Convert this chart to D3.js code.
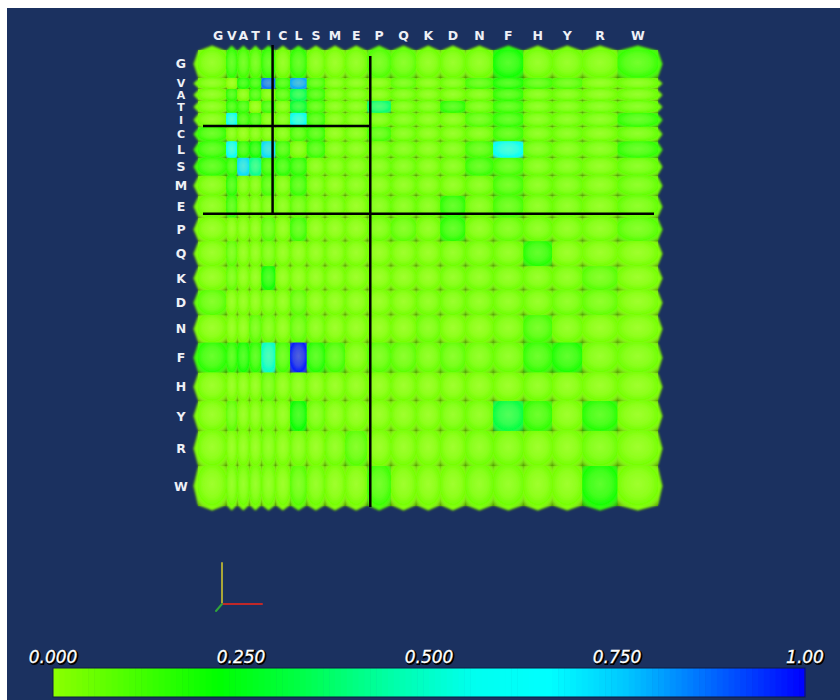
<!DOCTYPE html>
<html>
<head>
<meta charset="utf-8">
<script src="https://cdn.jsdelivr.net/npm/d3@7/dist/d3.min.js"></script>
<style>
  html, body { margin: 0; padding: 0; background: #ffffff; }
  svg { display: block; }
</style>
</head>
<body>
<script>
// ---------------- DATA ----------------
const residues = ["G","V","A","T","I","C","L","S","M","E","P","Q","K","D","N","F","H","Y","R","W"];
// relative extent of each residue's band in the matrix
const residueWeight = [28,11,12,12,14,14.5,16.5,18,20,22,23.5,25,24,25,27.5,30,28.5,30,35,40];
// residues that close a block (separator lines drawn after them)
const blockEnds = ["I","E"];
// matrix values, rows in residue order, columns in residue order
const matrix = [
  /* G */ [0.05,0.15,0.12,0.10,0.15,0.05,0.15,0.05,0.04,0.05,0.10,0.08,0.05,0.05,0.05,0.20,0.05,0.05,0.05,0.14],
  /* V */ [0.05,0.02,0.18,0.16,0.86,0.15,0.80,0.12,0.05,0.05,0.05,0.08,0.05,0.06,0.12,0.18,0.12,0.10,0.05,0.06],
  /* A */ [0.05,0.16,0.04,0.14,0.05,0.12,0.34,0.14,0.05,0.05,0.05,0.06,0.05,0.05,0.06,0.15,0.06,0.06,0.05,0.06],
  /* T */ [0.05,0.16,0.15,0.02,0.14,0.05,0.30,0.12,0.05,0.05,0.38,0.06,0.06,0.16,0.07,0.14,0.06,0.06,0.06,0.07],
  /* I */ [0.05,0.60,0.15,0.14,0.05,0.06,0.58,0.14,0.05,0.05,0.06,0.06,0.05,0.05,0.10,0.15,0.06,0.06,0.06,0.15],
  /* C */ [0.14,0.05,0.03,0.05,0.05,0.05,0.12,0.14,0.04,0.05,0.12,0.06,0.05,0.05,0.06,0.13,0.06,0.06,0.05,0.07],
  /* L */ [0.15,0.62,0.16,0.20,0.72,0.14,0.05,0.14,0.05,0.05,0.06,0.06,0.05,0.06,0.12,0.62,0.07,0.06,0.06,0.15],
  /* S */ [0.15,0.16,0.72,0.42,0.15,0.16,0.16,0.05,0.05,0.05,0.06,0.06,0.05,0.06,0.14,0.12,0.06,0.06,0.05,0.07],
  /* M */ [0.05,0.16,0.05,0.05,0.12,0.05,0.14,0.05,0.04,0.05,0.05,0.05,0.05,0.05,0.06,0.12,0.06,0.06,0.05,0.07],
  /* E */ [0.05,0.14,0.05,0.05,0.06,0.05,0.08,0.05,0.05,0.04,0.06,0.06,0.06,0.16,0.06,0.12,0.06,0.06,0.05,0.07],
  /* P */ [0.04,0.04,0.04,0.04,0.09,0.04,0.13,0.04,0.04,0.04,0.06,0.08,0.05,0.16,0.05,0.07,0.06,0.05,0.05,0.09],
  /* Q */ [0.04,0.08,0.04,0.04,0.06,0.04,0.04,0.04,0.04,0.04,0.04,0.04,0.04,0.05,0.05,0.05,0.17,0.04,0.04,0.04],
  /* K */ [0.04,0.07,0.04,0.04,0.20,0.04,0.04,0.04,0.04,0.04,0.04,0.04,0.04,0.05,0.05,0.05,0.05,0.05,0.09,0.04],
  /* D */ [0.09,0.04,0.04,0.04,0.05,0.04,0.08,0.04,0.04,0.04,0.04,0.04,0.05,0.05,0.05,0.05,0.05,0.06,0.07,0.04],
  /* N */ [0.04,0.04,0.04,0.08,0.06,0.04,0.08,0.05,0.04,0.04,0.04,0.04,0.06,0.04,0.04,0.05,0.12,0.05,0.04,0.04],
  /* F */ [0.16,0.16,0.19,0.16,0.50,0.12,0.97,0.17,0.12,0.05,0.09,0.08,0.06,0.08,0.06,0.06,0.15,0.18,0.05,0.05],
  /* H */ [0.04,0.04,0.04,0.04,0.07,0.04,0.05,0.04,0.04,0.04,0.04,0.04,0.04,0.04,0.04,0.04,0.05,0.04,0.04,0.04],
  /* Y */ [0.04,0.08,0.04,0.04,0.05,0.04,0.21,0.06,0.04,0.04,0.04,0.04,0.04,0.05,0.05,0.32,0.15,0.04,0.17,0.04],
  /* R */ [0.04,0.04,0.04,0.04,0.05,0.04,0.05,0.04,0.05,0.09,0.04,0.04,0.04,0.04,0.05,0.05,0.04,0.04,0.06,0.04],
  /* W */ [0.04,0.05,0.05,0.05,0.05,0.04,0.09,0.05,0.04,0.04,0.13,0.04,0.04,0.04,0.05,0.05,0.04,0.04,0.19,0.04]
];
// colour legend
const legendTicks = [0, 0.25, 0.5, 0.75, 1.0];
const legendTickLabels = ["0.000","0.250","0.500","0.750","1.00"];
const colorStops = [0, 0.22, 0.32, 0.45, 0.56, 0.66, 0.76, 0.88, 1.0];
const colorStopColors = ["#8cff00","#00ff00","#00ff40","#00ffa8","#00fff0","#00ffff","#00c8ff","#0064ff","#0000ff"];

// ---------------- CHART ----------------
(function () {
const W = 840, H = 700;
const svg = d3.select("body").append("svg").attr("width", W).attr("height", H);
svg.append("rect").attr("width", W).attr("height", H).attr("fill", "#ffffff");
svg.append("rect").attr("x", 7).attr("y", 8).attr("width", W - 7).attr("height", H - 8).attr("fill", "#1b3160");

const color = d3.scaleLinear().domain(colorStops).range(colorStopColors).interpolate(d3.interpolateRgb).clamp(true);

const total = d3.sum(residueWeight);
const starts = [0, ...d3.cumsum(residueWeight)];
const x = d3.scaleLinear().domain([0, total]).range([198, 658]);
const y = d3.scaleLinear().domain([0, total]).range([50, 506]);

const defs = svg.append("defs");
const blurSoft = defs.append("filter").attr("id", "soft").attr("x", "-5%").attr("y", "-5%").attr("width", "110%").attr("height", "110%");
blurSoft.append("feGaussianBlur").attr("stdDeviation", 0.7);
const blurBump = defs.append("filter").attr("id", "bump").attr("x", "-10%").attr("y", "-10%").attr("width", "120%").attr("height", "120%");
blurBump.append("feGaussianBlur").attr("stdDeviation", 0.9);
const shade = defs.append("radialGradient").attr("id", "shade").attr("cx", "50%").attr("cy", "45%").attr("r", "72%");
shade.append("stop").attr("offset", "0%").attr("stop-color", "#ffff90").attr("stop-opacity", 0.32);
shade.append("stop").attr("offset", "45%").attr("stop-color", "#ffff90").attr("stop-opacity", 0.2);
shade.append("stop").attr("offset", "72%").attr("stop-color", "#ffff90").attr("stop-opacity", 0.02);
shade.append("stop").attr("offset", "100%").attr("stop-color", "#405000").attr("stop-opacity", 0.5);
const shadow = defs.append("filter").attr("id", "tshadow");
shadow.append("feGaussianBlur").attr("stdDeviation", 0.7);

const cells = [];
matrix.forEach((row, i) => row.forEach((v, j) => cells.push({ r: i, c: j, v })));
const cx0 = d => x(starts[d.c]), cx1 = d => x(starts[d.c + 1]);
const cy0 = d => y(starts[d.r]), cy1 = d => y(starts[d.r + 1]);

// scalloped outline layer (only visible around the outer edge)
const b = 4.5;
svg.append("g").attr("filter", "url(#bump)")
  .selectAll("path").data(cells).join("path")
  .attr("d", d => {
    const x0 = cx0(d), x1 = cx1(d), y0 = cy0(d), y1 = cy1(d);
    const xm = (x0 + x1) / 2, ym = (y0 + y1) / 2;
    return `M${x0},${y0 + 1}L${xm},${y0 - b}L${x1},${y0 + 1}L${x1 + b},${ym}L${x1},${y1 - 1}L${xm},${y1 + b}L${x0},${y1 - 1}L${x0 - b},${ym}Z`;
  })
  .attr("fill", d => d3.interpolateRgb(color(d.v), "#ffff90")(0.12))
  .attr("stroke", "#5a7a10").attr("stroke-opacity", 0.5).attr("stroke-width", 1);

const grid = svg.append("g").attr("filter", "url(#soft)");
grid.selectAll("rect.cell").data(cells).join("rect").attr("class", "cell")
  .attr("x", cx0).attr("y", cy0)
  .attr("width", d => cx1(d) - cx0(d)).attr("height", d => cy1(d) - cy0(d))
  .attr("fill", d => color(d.v));
grid.selectAll("rect.shade").data(cells).join("rect").attr("class", "shade")
  .attr("x", cx0).attr("y", cy0)
  .attr("width", d => cx1(d) - cx0(d)).attr("height", d => cy1(d) - cy0(d))
  .attr("fill", "url(#shade)");

// block separator lines
const idx = blockEnds.map(r => residues.indexOf(r) + 1);
const xb1 = x(starts[idx[0]]), xb2 = x(starts[idx[1]]);
const yb1 = y(starts[idx[0]]), yb2 = y(starts[idx[1]]);
const gLeft = x(0), gRight = x(total), gTop = y(0), gBottom = y(total);
const lines = svg.append("g").attr("stroke", "#000").attr("stroke-width", 2.5);
lines.append("line").attr("x1", xb1 - 3).attr("x2", xb1 - 3).attr("y1", gTop - 5).attr("y2", yb2 - 4);
lines.append("line").attr("x1", xb2 + 3).attr("x2", xb2 + 3).attr("y1", gTop + 6).attr("y2", gBottom + 1);
lines.append("line").attr("x1", gLeft + 5).attr("x2", xb2 + 3).attr("y1", yb1 - 1).attr("y2", yb1 - 1);
lines.append("line").attr("x1", gLeft + 5).attr("x2", gRight - 4).attr("y1", yb2 - 4).attr("y2", yb2 - 4);

// labels
const lab = svg.append("g").attr("fill", "#eef0f6").attr("font-family", "DejaVu Sans, Verdana, sans-serif")
  .attr("font-weight", "bold");
lab.selectAll("text.col").data(residues).join("text").attr("class", "col")
  .attr("font-size", 12.5)
  .attr("x", (d, i) => x((starts[i] + starts[i + 1]) / 2) + (i === 0 ? 6 : 0)).attr("y", 40)
  .attr("text-anchor", "middle").text(d => d);
lab.selectAll("text.row").data(residues).join("text").attr("class", "row")
  .attr("font-size", (d, i) => residueWeight[i] < 15 ? 11 : 12.5)
  .attr("x", 181).attr("y", (d, i) => y((starts[i] + starts[i + 1]) / 2) + (residueWeight[i] < 15 ? 4 : 4.5))
  .attr("text-anchor", "middle").text(d => d);

// orientation triad
const tri = svg.append("g").attr("stroke-width", 2).attr("stroke-linecap", "round");
tri.append("line").attr("x1", 222).attr("y1", 604).attr("x2", 222).attr("y2", 563).attr("stroke", "#a9a638");
tri.append("line").attr("x1", 222).attr("y1", 604).attr("x2", 262).attr("y2", 604).attr("stroke", "#c02828");
tri.append("line").attr("x1", 222).attr("y1", 604).attr("x2", 216).attr("y2", 611).attr("stroke", "#2fa43a");

// colour bar
const cb = d3.scaleLinear().domain([0, 1]).range([53, 805]);
const steps = d3.range(128);
const bar = svg.append("g");
bar.selectAll("rect").data(steps).join("rect")
  .attr("x", i => cb(i / 128)).attr("y", 668)
  .attr("width", i => cb((i + 1) / 128) - cb(i / 128) + 0.6).attr("height", 29)
  .attr("fill", i => color((i + 0.5) / 128));
svg.append("rect").attr("x", cb(0)).attr("y", 668).attr("width", cb(1) - cb(0)).attr("height", 29)
  .attr("fill", "none").attr("stroke", "#0e1c44").attr("stroke-width", 1);

const tl = svg.append("g").attr("font-family", "DejaVu Sans, Verdana, sans-serif")
  .attr("font-style", "italic").attr("font-size", 17).attr("text-anchor", "middle");
tl.selectAll("text.sh").data(legendTicks).join("text").attr("class", "sh")
  .attr("x", d => cb(d) + 1).attr("y", 664).attr("fill", "#000").attr("stroke", "#000").attr("stroke-width", 2)
  .attr("filter", "url(#tshadow)")
  .text((d, i) => legendTickLabels[i]);
tl.selectAll("text.fg").data(legendTicks).join("text").attr("class", "fg")
  .attr("x", d => cb(d)).attr("y", 663).attr("fill", "#ffffff").attr("stroke", "#ffffff").attr("stroke-width", 0.3)
  .text((d, i) => legendTickLabels[i]);
})();
</script>
</body>
</html>
